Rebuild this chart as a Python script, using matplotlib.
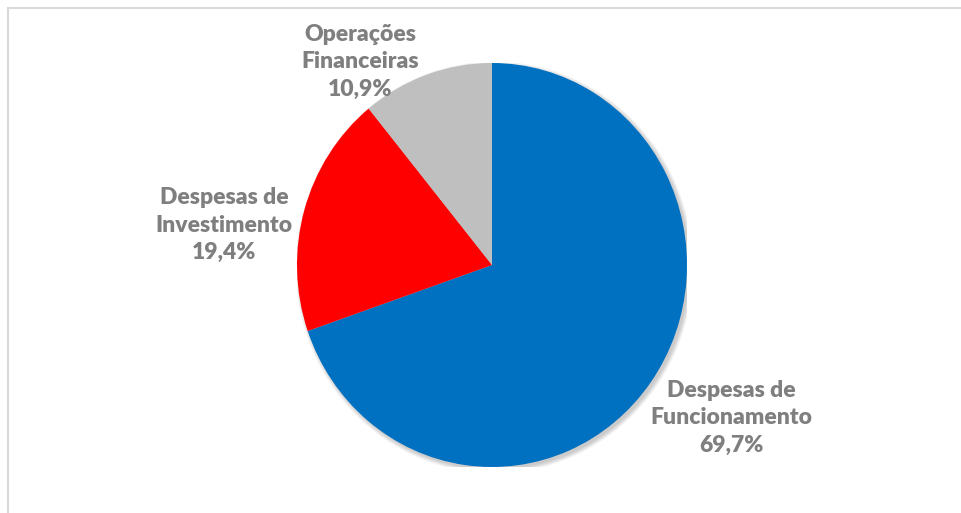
import matplotlib
matplotlib.use("Agg")
import matplotlib.pyplot as plt
from matplotlib.patches import Rectangle, Ellipse

categories = ["Despesas de\nFuncionamento", "Despesas de\nInvestimento", "Operações\nFinanceiras"]
values = [69.7, 19.4, 10.9]
value_labels = ["69,7%", "19,4%", "10,9%"]
colors = ["#0070C0", "#FF0000", "#BFBFBF"]

W, H = 962, 513
fig = plt.figure(figsize=(W / 100, H / 100), dpi=100)
fig.patch.set_facecolor("white")

# chart frame (partially visible: top and left edges)
fig.add_artist(Rectangle((8 / W, -0.1), 1.2, (H - 8) / H + 0.1, transform=fig.transFigure,
                         fill=False, edgecolor="#D9D9D9", linewidth=1.5))

cx, cy, rx, ry = 492, 265, 195, 202
ax = fig.add_axes([(cx - rx) / W, (H - cy - ry) / H, 2 * rx / W, 2 * ry / H])
# soft shadow
for i in range(6):
    grow = 0.004 * i
    ax.add_patch(Ellipse((0.012, -0.012), 2 + grow * 2, 2 + grow * 2,
                         facecolor="black", alpha=0.035, linewidth=0, zorder=0))
ax.pie(values, colors=colors, startangle=90, counterclock=False,
       wedgeprops=dict(linewidth=0, zorder=2))
ax.set_aspect("auto")
ax.set_xlim(-1, 1)
ax.set_ylim(-1, 1)
ax.axis("off")

label_pos = [(731, 418), (224, 225), (360, 62)]
for cat, vl, (px, py) in zip(categories, value_labels, label_pos):
    fig.text(px / W, 1 - py / H, cat + "\n" + vl, ha="center", va="center",
             fontsize=16.5, fontweight="heavy", color="#7F7F7F", family="Lato",
             linespacing=1.4)

fig.savefig("out.png", dpi=100)
